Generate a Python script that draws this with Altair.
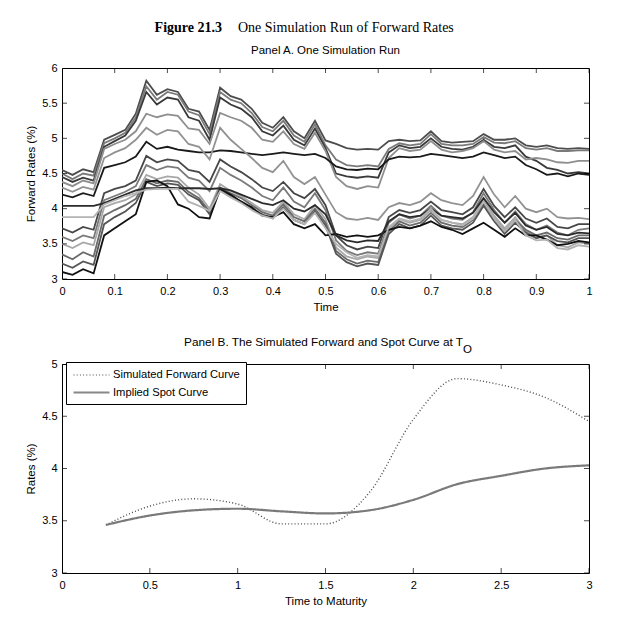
import altair as alt
import pandas as pd

FONT = "Liberation Sans"
SERIF = "Liberation Serif"

# ---------------- Panel A data (one simulation run) ----------------
TIME = [0.00, 0.02, 0.04, 0.06, 0.08, 0.10, 0.12, 0.14, 0.16, 0.18,
        0.20, 0.22, 0.24, 0.26, 0.28, 0.30, 0.32, 0.34, 0.36, 0.38,
        0.40, 0.42, 0.44, 0.46, 0.48, 0.50, 0.52, 0.54, 0.56, 0.58,
        0.60, 0.62, 0.64, 0.66, 0.68, 0.70, 0.72, 0.74, 0.76, 0.78,
        0.80, 0.82, 0.84, 0.86, 0.88, 0.90, 0.92, 0.94, 0.96, 0.98,
        1.00]

U1 = [4.55, 4.48, 4.56, 4.52, 4.98, 5.05, 5.12, 5.35, 5.82, 5.62,
      5.70, 5.66, 5.42, 5.38, 5.12, 5.72, 5.60, 5.55, 5.42, 5.22,
      5.15, 5.30, 5.10, 5.00, 5.25, 4.97, 4.92, 4.86, 4.84, 4.85,
      4.84, 4.96, 4.98, 4.96, 4.97, 5.10, 4.96, 4.94, 4.95, 4.96,
      5.06, 4.98, 4.98, 5.00, 4.90, 4.88, 4.90, 4.86, 4.85, 4.86,
      4.85]
U2 = [4.50, 4.42, 4.50, 4.47, 4.93, 5.00, 5.08, 5.30, 5.74, 5.55,
      5.66, 5.62, 5.38, 5.33, 5.06, 5.66, 5.55, 5.50, 5.36, 5.16,
      5.10, 5.25, 5.04, 4.95, 5.20, 4.90, 4.70, 4.62, 4.60, 4.62,
      4.60, 4.85, 4.93, 4.90, 4.92, 5.06, 4.92, 4.90, 4.90, 4.92,
      5.02, 4.94, 4.93, 4.96, 4.86, 4.84, 4.86, 4.82, 4.82, 4.83,
      4.83]
U3 = [4.45, 4.38, 4.44, 4.40, 4.88, 4.96, 5.04, 5.25, 5.66, 5.48,
      5.58, 5.55, 5.30, 5.25, 4.98, 5.58, 5.48, 5.42, 5.30, 5.10,
      5.04, 5.18, 4.98, 4.90, 5.14, 4.86, 4.50, 4.46, 4.44, 4.46,
      4.44, 4.80, 4.90, 4.86, 4.88, 5.00, 4.88, 4.85, 4.84, 4.88,
      4.98, 4.88, 4.86, 4.90, 4.74, 4.68, 4.58, 4.55, 4.50, 4.52,
      4.50]
U4 = [4.38, 4.32, 4.40, 4.36, 4.85, 4.92, 4.98, 5.10, 5.35, 5.30,
      5.34, 5.32, 5.14, 5.12, 4.92, 5.36, 5.30, 5.25, 5.15, 4.98,
      4.95, 5.10, 4.92, 4.85, 5.08, 4.82, 4.45, 4.32, 4.28, 4.32,
      4.30, 4.72, 4.86, 4.82, 4.84, 4.96, 4.84, 4.80, 4.82, 4.86,
      4.96, 4.84, 4.80, 4.82, 4.70, 4.72, 4.70, 4.66, 4.65, 4.68,
      4.68]
U5 = [4.20, 4.16, 4.22, 4.18, 4.58, 4.62, 4.66, 4.74, 4.95, 4.85,
      4.88, 4.84, 4.82, 4.80, 4.80, 4.83, 4.82, 4.80, 4.78, 4.76,
      4.78, 4.80, 4.78, 4.76, 4.78, 4.72, 4.60, 4.56, 4.55, 4.57,
      4.56, 4.70, 4.74, 4.73, 4.74, 4.78, 4.76, 4.74, 4.72, 4.74,
      4.80, 4.76, 4.72, 4.74, 4.62, 4.56, 4.48, 4.50, 4.46, 4.50,
      4.48]
M1 = [4.30, 4.24, 4.31, 4.27, 4.72, 4.80, 4.86, 4.98, 5.15, 5.05,
      5.12, 5.10, 4.92, 4.88, 4.70, 5.15, 4.98, 4.85, 4.72, 4.58,
      4.52, 4.68, 4.45, 4.35, 4.45, 4.20, 3.95, 3.86, 3.84, 3.87,
      3.84, 4.02, 4.08, 4.05, 4.10, 4.22, 4.12, 4.08, 4.05, 4.18,
      4.45, 4.20, 4.02, 4.18, 4.00, 3.95, 4.00, 3.88, 3.86, 3.87,
      3.85]
M2 = [3.72, 3.66, 3.74, 3.70, 4.22, 4.28, 4.32, 4.40, 4.75, 4.66,
      4.70, 4.68, 4.55, 4.52, 4.38, 4.70, 4.60, 4.52, 4.42, 4.30,
      4.25, 4.38, 4.22, 4.15, 4.28, 4.05, 3.62, 3.48, 3.42, 3.46,
      3.44, 3.88, 3.98, 3.94, 3.98, 4.10, 3.98, 3.95, 3.92, 4.02,
      4.28, 4.04, 3.88, 4.02, 3.86, 3.80, 3.86, 3.74, 3.72, 3.78,
      3.78]
M3 = [3.60, 3.54, 3.62, 3.58, 4.12, 4.18, 4.24, 4.32, 4.62, 4.55,
      4.60, 4.58, 4.44, 4.40, 4.25, 4.58, 4.48, 4.40, 4.30, 4.18,
      4.12, 4.30, 4.10, 4.02, 4.22, 3.98, 3.55, 3.40, 3.34, 3.38,
      3.36, 3.80, 3.92, 3.86, 3.90, 4.04, 3.90, 3.86, 3.84, 3.95,
      4.22, 3.98, 3.80, 3.96, 3.78, 3.70, 3.76, 3.66, 3.62, 3.70,
      3.72]
L1 = [3.50, 3.44, 3.52, 3.48, 4.02, 4.08, 4.12, 4.20, 4.48, 4.42,
      4.46, 4.44, 4.30, 4.20, 4.00, 4.35, 4.25, 4.18, 4.08, 3.98,
      3.94, 4.10, 3.92, 3.85, 4.05, 3.85, 3.45, 3.32, 3.28, 3.32,
      3.30, 3.72, 3.85, 3.80, 3.84, 3.98, 3.84, 3.80, 3.78, 3.88,
      4.12, 3.90, 3.72, 3.88, 3.68, 3.60, 3.62, 3.48, 3.45, 3.52,
      3.50]
L2 = [3.35, 3.28, 3.38, 3.32, 3.90, 3.98, 4.05, 4.14, 4.42, 4.36,
      4.40, 4.38, 4.24, 4.15, 3.96, 4.30, 4.22, 4.15, 4.05, 3.95,
      3.90, 4.06, 3.88, 3.82, 4.00, 3.80, 3.40, 3.28, 3.22, 3.26,
      3.24, 3.68, 3.82, 3.76, 3.80, 3.94, 3.80, 3.76, 3.74, 3.84,
      4.08, 3.86, 3.68, 3.84, 3.70, 3.62, 3.66, 3.58, 3.56, 3.62,
      3.62]
L3 = [3.22, 3.16, 3.25, 3.20, 3.78, 3.88, 3.96, 4.08, 4.38, 4.32,
      4.36, 4.34, 4.20, 4.12, 3.92, 4.26, 4.18, 4.10, 4.00, 3.92,
      3.86, 4.02, 3.84, 3.78, 3.96, 3.76, 3.36, 3.24, 3.18, 3.22,
      3.20, 3.64, 3.78, 3.72, 3.76, 3.90, 3.76, 3.72, 3.70, 3.80,
      4.04, 3.82, 3.64, 3.80, 3.66, 3.58, 3.62, 3.54, 3.52, 3.58,
      3.58]
L6 = [3.10, 3.06, 3.14, 3.08, 3.62, 3.72, 3.82, 3.92, 4.38, 4.40,
      4.32, 4.06, 4.00, 3.88, 3.86, 4.28, 4.20, 4.10, 4.02, 3.90,
      3.88, 3.95, 3.78, 3.72, 3.78, 3.62, 3.64, 3.60, 3.62, 3.60,
      3.62, 3.70, 3.74, 3.72, 3.76, 3.82, 3.74, 3.70, 3.64, 3.72,
      3.80, 3.70, 3.60, 3.72, 3.62, 3.62, 3.56, 3.48, 3.50, 3.54,
      3.52]
F1 = [4.04, 4.04, 4.04, 4.04, 4.08, 4.14, 4.20, 4.26, 4.29, 4.29,
      4.30, 4.29, 4.29, 4.29, 4.28, 4.29, 4.26, 4.20, 4.14, 4.08,
      4.05, 4.12, 4.00, 3.96, 4.05, 3.92, 3.62, 3.55, 3.52, 3.55,
      3.54, 3.82, 3.92, 3.88, 3.90, 4.00, 3.90, 3.88, 3.86, 3.94,
      4.15, 3.95, 3.80, 3.94, 3.76, 3.70, 3.74, 3.64, 3.62, 3.66,
      3.65]
F2 = [3.88, 3.88, 3.88, 3.88, 4.06, 4.12, 4.18, 4.22, 4.27, 4.28,
      4.28, 4.28, 4.10, 4.04, 3.97, 4.25, 4.16, 4.08, 3.98, 3.90,
      3.86, 4.00, 3.84, 3.78, 3.94, 3.72, 3.50, 3.38, 3.30, 3.34,
      3.32, 3.74, 3.86, 3.82, 3.86, 4.00, 3.84, 3.80, 3.76, 3.86,
      4.10, 3.86, 3.68, 3.84, 3.62, 3.55, 3.56, 3.44, 3.42, 3.48,
      3.46]

LINE_NAMES = ["U1", "U2", "U3", "U4", "U5", "M1", "M2", "M3",
              "L1", "L2", "L3", "L6", "F1", "F2"]
LINE_VALUES = [U1, U2, U3, U4, U5, M1, M2, M3, L1, L2, L3, L6, F1, F2]
LINE_COLORS = ["#4d4d4d", "#7a7a7a", "#3a3a3a", "#8e8e8e", "#1a1a1a",
               "#929292", "#474747", "#7a7a7a", "#a8a8a8", "#6b6b6b",
               "#555555", "#111111", "#2b2b2b", "#b3b3b3"]

XT_A = [0, 0.1, 0.2, 0.3, 0.4, 0.5, 0.6, 0.7, 0.8, 0.9, 1]
YT_A = [3, 3.5, 4, 4.5, 5, 5.5, 6]

# ---------------- Panel B data ----------------
MATURITY = [0.25, 0.5, 0.75, 1.0, 1.25, 1.5, 1.75, 2.0, 2.25, 2.5, 2.75, 3.0]
FORWARD = [3.46, 3.64, 3.71, 3.66, 3.47, 3.47, 3.77, 4.47, 4.86, 4.80, 4.68, 4.45]
SPOT = [3.46, 3.55, 3.60, 3.615, 3.59, 3.57, 3.60, 3.70, 3.85, 3.93, 4.00, 4.03]
SERIES = ["Simulated Forward Curve", "Implied Spot Curve"]
XT_B = [0, 0.5, 1, 1.5, 2, 2.5, 3]
YT_B = [3, 3.5, 4, 4.5, 5]

W = 527
HA = 211
HB = 209


def text_layer(txt, x, y, size, font=FONT, weight="normal", align="left"):
    return alt.Chart(pd.DataFrame({"t": [txt]})).mark_text(
        align=align, baseline="alphabetic", font=font, fontSize=size,
        fontWeight=weight, color="black"
    ).encode(x=alt.value(x), y=alt.value(y), text="t:N")


def xaxis(values, title):
    return alt.Axis(values=values, format="~g", title=title, labelFlush=False, labelOverlap=False,
                    titleFontWeight="normal", ticks=False, tickSize=0, domain=False, grid=False,
                    labelPadding=6, titlePadding=5)


def yaxis(values, title):
    return alt.Axis(values=values, format="~g", title=title, labelOverlap=False,
                    titleFontWeight="normal", ticks=False, tickSize=0, domain=False, grid=False,
                    labelPadding=5, titlePadding=5)


def inward_ticks(xname, yname, xt, yt, xdom, ydom, xtitle, ytitle):
    tx = pd.DataFrame({xname: xt + xt, yname: [ydom[0]] * len(xt) + [ydom[1]] * len(xt)})
    ty = pd.DataFrame({xname: [xdom[0]] * len(yt) + [xdom[1]] * len(yt), yname: yt + yt})
    xs = alt.Scale(domain=xdom, nice=False, zero=False)
    ys = alt.Scale(domain=ydom, nice=False, zero=False)
    enc = dict(x=alt.X(f"{xname}:Q", scale=xs, axis=xaxis(xt, xtitle)),
               y=alt.Y(f"{yname}:Q", scale=ys, axis=yaxis(yt, ytitle)))
    a = alt.Chart(tx).mark_tick(orient="vertical", size=10, thickness=1, color="black", clip=True).encode(**enc)
    b = alt.Chart(ty).mark_tick(orient="horizontal", size=10, thickness=1, color="black", clip=True).encode(**enc)
    return a, b


# ---- Panel A ----
rows = []
for name, vals in zip(LINE_NAMES, LINE_VALUES):
    for t, v in zip(TIME, vals):
        rows.append({"time": t, "rate": v, "line": name})
df_a = pd.DataFrame(rows)

lines_a = alt.Chart(df_a).mark_line(strokeWidth=1.8, clip=True).encode(
    x=alt.X("time:Q", scale=alt.Scale(domain=[0, 1], nice=False), axis=xaxis(XT_A, "Time")),
    y=alt.Y("rate:Q", scale=alt.Scale(domain=[3, 6], nice=False, zero=False),
            axis=yaxis(YT_A, "Forward Rates (%)")),
    color=alt.Color("line:N", scale=alt.Scale(domain=LINE_NAMES, range=LINE_COLORS), legend=None),
)
ta1, ta2 = inward_ticks("time", "rate", XT_A, YT_A, [0, 1], [3, 6], "Time", "Forward Rates (%)")

panel_a = alt.layer(
    lines_a, ta1, ta2,
    text_layer("Figure 21.3", 92.6, -36.5, 14, font=SERIF, weight="bold"),
    text_layer("One Simulation Run of Forward Rates", 176, -36.5, 14, font=SERIF),
    text_layer("Panel A. One Simulation Run", W / 2, -14.5, 11.5, align="center"),
).properties(width=W, height=HA)

# ---- Panel B ----
rows_b = []
for m, f in zip(MATURITY, FORWARD):
    rows_b.append({"maturity": m, "rate": f, "series": SERIES[0]})
for m, s in zip(MATURITY, SPOT):
    rows_b.append({"maturity": m, "rate": s, "series": SERIES[1]})
df_b = pd.DataFrame(rows_b)

leg = alt.Legend(title=None, orient="none", legendX=4, legendY=294, strokeColor="black", padding=6,
                 fillColor="white", symbolType="M-1,0H5", symbolSize=144,
                 labelFont=FONT, labelFontSize=11.2, labelColor="black", rowPadding=4,
                 labelOffset=26)

curves = alt.Chart(df_b).mark_line(clip=True, interpolate="monotone").encode(
    x=alt.X("maturity:Q", scale=alt.Scale(domain=[0, 3], nice=False), axis=xaxis(XT_B, "Time to Maturity")),
    y=alt.Y("rate:Q", scale=alt.Scale(domain=[3, 5], nice=False, zero=False), axis=yaxis(YT_B, "Rates (%)")),
    color=alt.Color("series:N", scale=alt.Scale(domain=SERIES, range=["#2a2a2a", "#7f7f7f"]), legend=leg),
    strokeDash=alt.StrokeDash("series:N", scale=alt.Scale(domain=SERIES, range=[[1, 2.2], [1, 0]]), legend=leg),
    strokeWidth=alt.StrokeWidth("series:N", scale=alt.Scale(domain=SERIES, range=[1.4, 2.2]), legend=leg),
)
tb1, tb2 = inward_ticks("maturity", "rate", XT_B, YT_B, [0, 3], [3, 5], "Time to Maturity", "Rates (%)")

panel_b = alt.layer(
    curves, tb1, tb2,
    text_layer("Panel B. The Simulated Forward and Spot Curve at T", 401, -18, 11.8, align="right"),
    text_layer("O", 401, -11, 11.5),
).properties(width=W, height=HB)

chart = alt.vconcat(panel_a, panel_b, spacing=23).properties(
    padding={"left": 17, "top": 12, "right": 5, "bottom": 5}
).configure(background="white").configure_view(stroke="black", strokeWidth=1).configure_axis(
    labelFont=FONT, labelFontSize=11, labelColor="black",
    titleFont=FONT, titleFontSize=11.5, titleFontWeight="normal", titleColor="black",
    domain=False, ticks=False, grid=False
)

chart.save("out.html", embed_options={"renderer": "svg", "actions": False})
